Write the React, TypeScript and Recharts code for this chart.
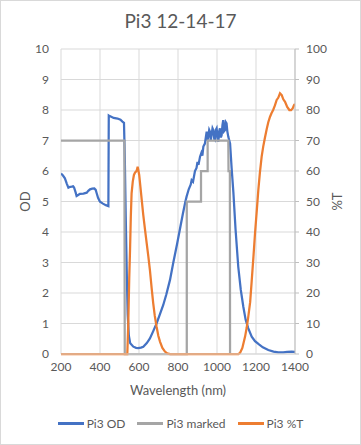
import React from 'react';
import { LineChart, Line, XAxis, YAxis, CartesianGrid } from 'recharts';

const title = 'Pi3 12-14-17';
const xTicks = [200, 400, 600, 800, 1000, 1200, 1400];
const odTicks = [0, 1, 2, 3, 4, 5, 6, 7, 8, 9, 10];
const pctTicks = [0, 10, 20, 30, 40, 50, 60, 70, 80, 90, 100];

const odWavelength = [
  200, 210, 220, 230, 238, 247, 255, 262, 267, 275, 280, 290, 297, 315, 332, 340, 349, 360, 371, 378,
  383, 390, 400, 415, 430, 443, 445, 450, 470, 490, 505, 515, 523, 527, 532, 537, 542, 548, 555, 571,
  585, 596, 610, 622, 640, 656, 673, 690, 707, 724, 740, 759, 776, 795, 810, 825, 838, 844, 855, 865,
  870, 877, 887, 895, 900, 905, 913, 920, 925, 930, 938, 947, 951, 955, 960, 964, 968, 972, 977, 981,
  986, 990, 994, 998, 1003, 1007, 1011, 1015, 1020, 1024, 1028, 1032, 1036, 1041, 1045, 1049, 1053, 1058, 1063, 1067,
  1075, 1084, 1095, 1109, 1122, 1135, 1147, 1160, 1178, 1195, 1212, 1235, 1263, 1290, 1314, 1340, 1360, 1383, 1400,
];
const odValue = [
  5.92, 5.85, 5.76, 5.58, 5.45, 5.48, 5.49, 5.5, 5.46, 5.3, 5.18, 5.22, 5.25, 5.26, 5.29, 5.35, 5.4, 5.42, 5.43, 5.38,
  5.27, 5.12, 4.99, 4.93, 4.88, 4.85, 7.82, 7.8, 7.74, 7.72, 7.68, 7.62, 7.58, 6.5, 4.5, 2.75, 1.3, 0.6, 0.35, 0.24,
  0.2, 0.19, 0.21, 0.24, 0.36, 0.51, 0.75, 1.0, 1.3, 1.6, 1.95, 2.43, 3.0, 3.6, 4.1, 4.6, 5.0, 5.16, 5.4, 5.55,
  5.7, 5.65, 6.0, 6.1, 6.3, 6.2, 6.47, 6.6, 6.5, 6.8, 6.9, 7.29, 7.0, 7.12, 7.35, 7.29, 7.0, 7.18, 7.4, 7.34,
  7.05, 7.02, 7.35, 7.4, 7.1, 6.96, 7.3, 7.4, 7.1, 7.18, 7.5, 7.67, 7.3, 7.34, 7.6, 7.56, 7.3, 7.12, 7.0, 6.9,
  6.1, 5.3, 4.1, 2.86, 2.1, 1.55, 1.12, 0.85, 0.57, 0.42, 0.33, 0.22, 0.13, 0.08, 0.05, 0.05, 0.07, 0.08, 0.07,
];

const markedWavelength = [200, 525, 527, 845, 845, 918, 918, 952, 952, 1058, 1059, 1066, 1067];
const markedValue = [7, 7, 0, 0, 5, 5, 6, 6, 7, 7, 6, 6, 0];

const pctWavelength = [
  200, 540, 545, 550, 554, 558, 562, 568, 574, 580, 585, 590, 593, 596, 601, 607, 614, 622, 631, 640,
  648, 656, 665, 673, 681, 690, 699, 708, 720, 733, 745, 760, 1110, 1118, 1130, 1144, 1152, 1160, 1170, 1178,
  1187, 1195, 1204, 1212, 1220, 1229, 1237, 1246, 1255, 1263, 1272, 1280, 1288, 1297, 1306, 1314, 1323, 1332, 1340, 1349,
  1360, 1371, 1380, 1388, 1395, 1400,
];
const pctValue = [
  0, 0, 10, 25, 34, 45, 52.7, 56.5, 58.7, 59.5, 59.8, 60.5, 61.4, 60.5, 58.7, 55, 50.5, 45.5, 40.7, 36,
  31.9, 27.5, 21.5, 16.6, 12.5, 9, 6, 4, 2, 0.8, 0.2, 0, 0, 0.3, 2, 5.7, 8.5, 12, 17, 24,
  32, 39.6, 47, 53.8, 59.5, 64.7, 68, 71, 73.8, 76, 77.8, 79, 80, 81.5, 83.3, 84, 85.5, 84.9, 83.5, 82.7,
  81, 80, 80, 80.5, 81.6, 82,
];

const zip = (xs: number[], ys: number[]) => xs.map((x, i) => ({ x, y: ys[i] }));
const odData = zip(odWavelength, odValue);
const markedData = zip(markedWavelength, markedValue);
const pctData = zip(pctWavelength, pctValue);

const BLUE = '#4472C4';
const GRAY = '#A5A5A5';
const ORANGE = '#ED7D31';
const TEXT = '#595959';
const FONT = 'Lato, "Liberation Sans", sans-serif';

const legendItems = [
  { name: 'Pi3 OD', color: BLUE },
  { name: 'Pi3 marked', color: GRAY },
  { name: 'Pi3 %T', color: ORANGE },
];

export default function App() {
  const tickStyle = { fill: TEXT, fontSize: 12, fontFamily: FONT };
  return (
    <div style={{ position: 'absolute', left: 0, top: 0, width: 361, height: 445, background: '#fff', fontFamily: FONT }}>
      <div style={{ position: 'absolute', left: 0, top: 9, width: 361, textAlign: 'center', fontSize: 19, color: TEXT }}>
        {title}
      </div>
      <div style={{ position: 'absolute', left: 0, top: 0 }}>
        <LineChart width={361} height={445} margin={{ top: 49, right: 16, bottom: 61, left: 21 }}>
          <CartesianGrid yAxisId="od" stroke="#d9d9d9" strokeWidth={1} />
          <XAxis
            dataKey="x"
            type="number"
            domain={[200, 1400]}
            ticks={xTicks}
            allowDataOverflow
            height={30}
            tickSize={0}
            tickMargin={8}
            tickLine={false}
            axisLine={{ stroke: '#d9d9d9' }}
            tick={tickStyle}
            label={{ value: 'Wavelength (nm)', position: 'center', dy: 21, fill: TEXT, fontSize: 13, fontFamily: FONT }}
          />
          <YAxis
            yAxisId="od"
            orientation="left"
            domain={[0, 10]}
            ticks={odTicks}
            width={40}
            tickSize={0}
            tickMargin={12}
            tickLine={false}
            axisLine={false}
            tick={tickStyle}
            label={{ value: 'OD', angle: -90, position: 'center', dx: -16, fill: TEXT, fontSize: 13, fontFamily: FONT }}
          />
          <YAxis
            yAxisId="t"
            orientation="right"
            domain={[0, 100]}
            ticks={pctTicks}
            width={50}
            tickSize={4}
            tickMargin={7}
            tickLine={{ stroke: '#bfbfbf' }}
            axisLine={{ stroke: '#bfbfbf' }}
            tick={tickStyle}
            label={{ value: '%T', angle: -90, position: 'center', dx: 17, fill: TEXT, fontSize: 13, fontFamily: FONT }}
          />
          <Line data={odData} yAxisId="od" dataKey="y" name="Pi3 OD" type="linear" stroke={BLUE} strokeWidth={2.25} dot={false} isAnimationActive={false} />
          <Line data={markedData} yAxisId="od" dataKey="y" name="Pi3 marked" type="linear" stroke={GRAY} strokeWidth={2.25} dot={false} isAnimationActive={false} />
          <Line data={pctData} yAxisId="t" dataKey="y" name="Pi3 %T" type="linear" stroke={ORANGE} strokeWidth={2.25} dot={false} isAnimationActive={false} />
        </LineChart>
      </div>
      <div style={{ position: 'absolute', left: 0, top: 416, width: 361, display: 'flex', justifyContent: 'center', alignItems: 'center', fontSize: 12, color: TEXT }}>
        {legendItems.map((it) => (
          <div key={it.name} style={{ display: 'flex', alignItems: 'center', margin: '0 6px' }}>
            <div style={{ width: 26, height: 2.25, background: it.color, marginRight: 3 }} />
            <span>{it.name}</span>
          </div>
        ))}
      </div>
      <div style={{ position: 'absolute', left: 0, top: 0, width: 361, height: 445, boxSizing: 'border-box', border: '1px solid #d9d9d9', pointerEvents: 'none' }} />
    </div>
  );
}
